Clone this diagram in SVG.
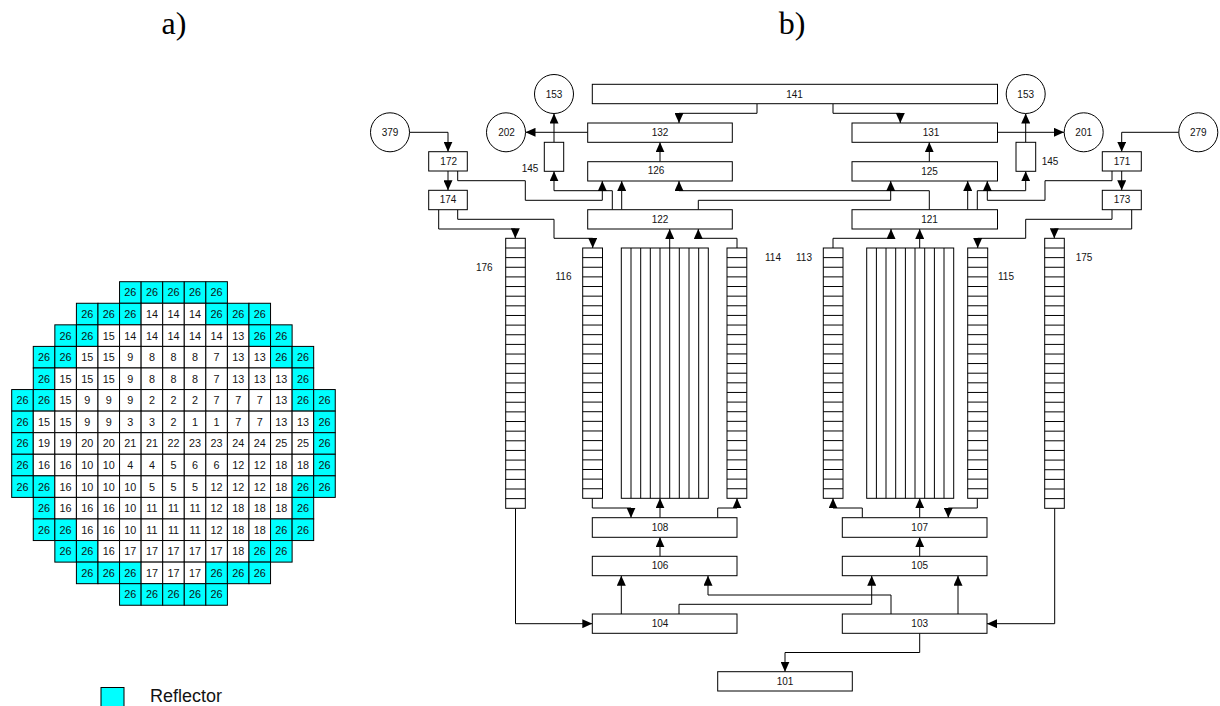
<svg xmlns="http://www.w3.org/2000/svg" width="1220" height="706" viewBox="0 0 1220 706">
<style>
text{font-family:"Liberation Sans",Arial,sans-serif;font-size:10px;fill:#111;text-anchor:middle;opacity:.99}
.h{font-family:"Liberation Serif","Times New Roman",serif;font-size:32px;fill:#000}
.lg{font-size:18px;text-anchor:start}
.g text{font-size:10.8px}
.g rect{width:21.57px;height:21.57px;stroke:#000;stroke-width:1}
.c{fill:#0ff}.w{fill:#fff}
.n rect,.n circle,.n path{fill:#fff;stroke:#000;stroke-width:1}
.n path{fill:none}
.k path{fill:none;stroke:#000;stroke-width:1;marker-end:url(#a)}
</style>
<defs>
<marker id="a" markerUnits="userSpaceOnUse" viewBox="0 0 10 9" refX="10" refY="4.5" markerWidth="10" markerHeight="9" orient="auto"><path d="M0 0L10 4.5L0 9Z" fill="#000"/></marker>
</defs>
<rect width="1220" height="706" fill="#fff"/>
<text class="h" x="174" y="34">a)</text>
<text class="h" x="792" y="34">b)</text>
<g id="core-map" class="g">
<g id="row0" transform="translate(0 281.7)"><rect class="c" x="119.55"/><text x="130.35" y="14.7">26</text><rect class="c" x="141.12"/><text x="151.9" y="14.7">26</text><rect class="c" x="162.69"/><text x="173.5" y="14.7">26</text><rect class="c" x="184.26"/><text x="195.05" y="14.7">26</text><rect class="c" x="205.83"/><text x="216.6" y="14.7">26</text></g>
<g id="row1" transform="translate(0 303.27)"><rect class="c" x="76.41"/><text x="87.2" y="14.7">26</text><rect class="c" x="97.98"/><text x="108.8" y="14.7">26</text><rect class="c" x="119.55"/><text x="130.35" y="14.7">26</text><rect class="w" x="141.12"/><text x="151.9" y="14.7">14</text><rect class="w" x="162.69"/><text x="173.5" y="14.7">14</text><rect class="w" x="184.26"/><text x="195.05" y="14.7">14</text><rect class="c" x="205.83"/><text x="216.6" y="14.7">26</text><rect class="c" x="227.4"/><text x="238.2" y="14.7">26</text><rect class="c" x="248.97"/><text x="259.75" y="14.7">26</text></g>
<g id="row2" transform="translate(0 324.84)"><rect class="c" x="54.84"/><text x="65.6" y="14.7">26</text><rect class="c" x="76.41"/><text x="87.2" y="14.7">26</text><rect class="w" x="97.98"/><text x="108.8" y="14.7">15</text><rect class="w" x="119.55"/><text x="130.35" y="14.7">14</text><rect class="w" x="141.12"/><text x="151.9" y="14.7">14</text><rect class="w" x="162.69"/><text x="173.5" y="14.7">14</text><rect class="w" x="184.26"/><text x="195.05" y="14.7">14</text><rect class="w" x="205.83"/><text x="216.6" y="14.7">14</text><rect class="w" x="227.4"/><text x="238.2" y="14.7">13</text><rect class="c" x="248.97"/><text x="259.75" y="14.7">26</text><rect class="c" x="270.54"/><text x="281.3" y="14.7">26</text></g>
<g id="row3" transform="translate(0 346.41)"><rect class="c" x="33.27"/><text x="44.05" y="14.7">26</text><rect class="c" x="54.84"/><text x="65.6" y="14.7">26</text><rect class="w" x="76.41"/><text x="87.2" y="14.7">15</text><rect class="w" x="97.98"/><text x="108.8" y="14.7">15</text><rect class="w" x="119.55"/><text x="130.35" y="14.7">9</text><rect class="w" x="141.12"/><text x="151.9" y="14.7">8</text><rect class="w" x="162.69"/><text x="173.5" y="14.7">8</text><rect class="w" x="184.26"/><text x="195.05" y="14.7">8</text><rect class="w" x="205.83"/><text x="216.6" y="14.7">7</text><rect class="w" x="227.4"/><text x="238.2" y="14.7">13</text><rect class="w" x="248.97"/><text x="259.75" y="14.7">13</text><rect class="c" x="270.54"/><text x="281.3" y="14.7">26</text><rect class="c" x="292.11"/><text x="302.9" y="14.7">26</text></g>
<g id="row4" transform="translate(0 367.98)"><rect class="c" x="33.27"/><text x="44.05" y="14.7">26</text><rect class="w" x="54.84"/><text x="65.6" y="14.7">15</text><rect class="w" x="76.41"/><text x="87.2" y="14.7">15</text><rect class="w" x="97.98"/><text x="108.8" y="14.7">15</text><rect class="w" x="119.55"/><text x="130.35" y="14.7">9</text><rect class="w" x="141.12"/><text x="151.9" y="14.7">8</text><rect class="w" x="162.69"/><text x="173.5" y="14.7">8</text><rect class="w" x="184.26"/><text x="195.05" y="14.7">8</text><rect class="w" x="205.83"/><text x="216.6" y="14.7">7</text><rect class="w" x="227.4"/><text x="238.2" y="14.7">13</text><rect class="w" x="248.97"/><text x="259.75" y="14.7">13</text><rect class="w" x="270.54"/><text x="281.3" y="14.7">13</text><rect class="c" x="292.11"/><text x="302.9" y="14.7">26</text></g>
<g id="row5" transform="translate(0 389.55)"><rect class="c" x="11.7"/><text x="22.5" y="14.7">26</text><rect class="c" x="33.27"/><text x="44.05" y="14.7">26</text><rect class="w" x="54.84"/><text x="65.6" y="14.7">15</text><rect class="w" x="76.41"/><text x="87.2" y="14.7">9</text><rect class="w" x="97.98"/><text x="108.8" y="14.7">9</text><rect class="w" x="119.55"/><text x="130.35" y="14.7">9</text><rect class="w" x="141.12"/><text x="151.9" y="14.7">2</text><rect class="w" x="162.69"/><text x="173.5" y="14.7">2</text><rect class="w" x="184.26"/><text x="195.05" y="14.7">2</text><rect class="w" x="205.83"/><text x="216.6" y="14.7">7</text><rect class="w" x="227.4"/><text x="238.2" y="14.7">7</text><rect class="w" x="248.97"/><text x="259.75" y="14.7">7</text><rect class="w" x="270.54"/><text x="281.3" y="14.7">13</text><rect class="c" x="292.11"/><text x="302.9" y="14.7">26</text><rect class="c" x="313.68"/><text x="324.5" y="14.7">26</text></g>
<g id="row6" transform="translate(0 411.12)"><rect class="c" x="11.7"/><text x="22.5" y="14.7">26</text><rect class="w" x="33.27"/><text x="44.05" y="14.7">15</text><rect class="w" x="54.84"/><text x="65.6" y="14.7">15</text><rect class="w" x="76.41"/><text x="87.2" y="14.7">9</text><rect class="w" x="97.98"/><text x="108.8" y="14.7">9</text><rect class="w" x="119.55"/><text x="130.35" y="14.7">3</text><rect class="w" x="141.12"/><text x="151.9" y="14.7">3</text><rect class="w" x="162.69"/><text x="173.5" y="14.7">2</text><rect class="w" x="184.26"/><text x="195.05" y="14.7">1</text><rect class="w" x="205.83"/><text x="216.6" y="14.7">1</text><rect class="w" x="227.4"/><text x="238.2" y="14.7">7</text><rect class="w" x="248.97"/><text x="259.75" y="14.7">7</text><rect class="w" x="270.54"/><text x="281.3" y="14.7">13</text><rect class="w" x="292.11"/><text x="302.9" y="14.7">13</text><rect class="c" x="313.68"/><text x="324.5" y="14.7">26</text></g>
<g id="row7" transform="translate(0 432.69)"><rect class="c" x="11.7"/><text x="22.5" y="14.7">26</text><rect class="w" x="33.27"/><text x="44.05" y="14.7">19</text><rect class="w" x="54.84"/><text x="65.6" y="14.7">19</text><rect class="w" x="76.41"/><text x="87.2" y="14.7">20</text><rect class="w" x="97.98"/><text x="108.8" y="14.7">20</text><rect class="w" x="119.55"/><text x="130.35" y="14.7">21</text><rect class="w" x="141.12"/><text x="151.9" y="14.7">21</text><rect class="w" x="162.69"/><text x="173.5" y="14.7">22</text><rect class="w" x="184.26"/><text x="195.05" y="14.7">23</text><rect class="w" x="205.83"/><text x="216.6" y="14.7">23</text><rect class="w" x="227.4"/><text x="238.2" y="14.7">24</text><rect class="w" x="248.97"/><text x="259.75" y="14.7">24</text><rect class="w" x="270.54"/><text x="281.3" y="14.7">25</text><rect class="w" x="292.11"/><text x="302.9" y="14.7">25</text><rect class="c" x="313.68"/><text x="324.5" y="14.7">26</text></g>
<g id="row8" transform="translate(0 454.26)"><rect class="c" x="11.7"/><text x="22.5" y="14.7">26</text><rect class="w" x="33.27"/><text x="44.05" y="14.7">16</text><rect class="w" x="54.84"/><text x="65.6" y="14.7">16</text><rect class="w" x="76.41"/><text x="87.2" y="14.7">10</text><rect class="w" x="97.98"/><text x="108.8" y="14.7">10</text><rect class="w" x="119.55"/><text x="130.35" y="14.7">4</text><rect class="w" x="141.12"/><text x="151.9" y="14.7">4</text><rect class="w" x="162.69"/><text x="173.5" y="14.7">5</text><rect class="w" x="184.26"/><text x="195.05" y="14.7">6</text><rect class="w" x="205.83"/><text x="216.6" y="14.7">6</text><rect class="w" x="227.4"/><text x="238.2" y="14.7">12</text><rect class="w" x="248.97"/><text x="259.75" y="14.7">12</text><rect class="w" x="270.54"/><text x="281.3" y="14.7">18</text><rect class="w" x="292.11"/><text x="302.9" y="14.7">18</text><rect class="c" x="313.68"/><text x="324.5" y="14.7">26</text></g>
<g id="row9" transform="translate(0 475.83)"><rect class="c" x="11.7"/><text x="22.5" y="14.7">26</text><rect class="c" x="33.27"/><text x="44.05" y="14.7">26</text><rect class="w" x="54.84"/><text x="65.6" y="14.7">16</text><rect class="w" x="76.41"/><text x="87.2" y="14.7">10</text><rect class="w" x="97.98"/><text x="108.8" y="14.7">10</text><rect class="w" x="119.55"/><text x="130.35" y="14.7">10</text><rect class="w" x="141.12"/><text x="151.9" y="14.7">5</text><rect class="w" x="162.69"/><text x="173.5" y="14.7">5</text><rect class="w" x="184.26"/><text x="195.05" y="14.7">5</text><rect class="w" x="205.83"/><text x="216.6" y="14.7">12</text><rect class="w" x="227.4"/><text x="238.2" y="14.7">12</text><rect class="w" x="248.97"/><text x="259.75" y="14.7">12</text><rect class="w" x="270.54"/><text x="281.3" y="14.7">18</text><rect class="c" x="292.11"/><text x="302.9" y="14.7">26</text><rect class="c" x="313.68"/><text x="324.5" y="14.7">26</text></g>
<g id="row10" transform="translate(0 497.4)"><rect class="c" x="33.27"/><text x="44.05" y="14.7">26</text><rect class="w" x="54.84"/><text x="65.6" y="14.7">16</text><rect class="w" x="76.41"/><text x="87.2" y="14.7">16</text><rect class="w" x="97.98"/><text x="108.8" y="14.7">16</text><rect class="w" x="119.55"/><text x="130.35" y="14.7">10</text><rect class="w" x="141.12"/><text x="151.9" y="14.7">11</text><rect class="w" x="162.69"/><text x="173.5" y="14.7">11</text><rect class="w" x="184.26"/><text x="195.05" y="14.7">11</text><rect class="w" x="205.83"/><text x="216.6" y="14.7">12</text><rect class="w" x="227.4"/><text x="238.2" y="14.7">18</text><rect class="w" x="248.97"/><text x="259.75" y="14.7">18</text><rect class="w" x="270.54"/><text x="281.3" y="14.7">18</text><rect class="c" x="292.11"/><text x="302.9" y="14.7">26</text></g>
<g id="row11" transform="translate(0 518.97)"><rect class="c" x="33.27"/><text x="44.05" y="14.7">26</text><rect class="c" x="54.84"/><text x="65.6" y="14.7">26</text><rect class="w" x="76.41"/><text x="87.2" y="14.7">16</text><rect class="w" x="97.98"/><text x="108.8" y="14.7">16</text><rect class="w" x="119.55"/><text x="130.35" y="14.7">10</text><rect class="w" x="141.12"/><text x="151.9" y="14.7">11</text><rect class="w" x="162.69"/><text x="173.5" y="14.7">11</text><rect class="w" x="184.26"/><text x="195.05" y="14.7">11</text><rect class="w" x="205.83"/><text x="216.6" y="14.7">12</text><rect class="w" x="227.4"/><text x="238.2" y="14.7">18</text><rect class="w" x="248.97"/><text x="259.75" y="14.7">18</text><rect class="c" x="270.54"/><text x="281.3" y="14.7">26</text><rect class="c" x="292.11"/><text x="302.9" y="14.7">26</text></g>
<g id="row12" transform="translate(0 540.54)"><rect class="c" x="54.84"/><text x="65.6" y="14.7">26</text><rect class="c" x="76.41"/><text x="87.2" y="14.7">26</text><rect class="w" x="97.98"/><text x="108.8" y="14.7">16</text><rect class="w" x="119.55"/><text x="130.35" y="14.7">17</text><rect class="w" x="141.12"/><text x="151.9" y="14.7">17</text><rect class="w" x="162.69"/><text x="173.5" y="14.7">17</text><rect class="w" x="184.26"/><text x="195.05" y="14.7">17</text><rect class="w" x="205.83"/><text x="216.6" y="14.7">17</text><rect class="w" x="227.4"/><text x="238.2" y="14.7">18</text><rect class="c" x="248.97"/><text x="259.75" y="14.7">26</text><rect class="c" x="270.54"/><text x="281.3" y="14.7">26</text></g>
<g id="row13" transform="translate(0 562.11)"><rect class="c" x="76.41"/><text x="87.2" y="14.7">26</text><rect class="c" x="97.98"/><text x="108.8" y="14.7">26</text><rect class="c" x="119.55"/><text x="130.35" y="14.7">26</text><rect class="w" x="141.12"/><text x="151.9" y="14.7">17</text><rect class="w" x="162.69"/><text x="173.5" y="14.7">17</text><rect class="w" x="184.26"/><text x="195.05" y="14.7">17</text><rect class="c" x="205.83"/><text x="216.6" y="14.7">26</text><rect class="c" x="227.4"/><text x="238.2" y="14.7">26</text><rect class="c" x="248.97"/><text x="259.75" y="14.7">26</text></g>
<g id="row14" transform="translate(0 583.68)"><rect class="c" x="119.55"/><text x="130.35" y="14.7">26</text><rect class="c" x="141.12"/><text x="151.9" y="14.7">26</text><rect class="c" x="162.69"/><text x="173.5" y="14.7">26</text><rect class="c" x="184.26"/><text x="195.05" y="14.7">26</text><rect class="c" x="205.83"/><text x="216.6" y="14.7">26</text></g>
</g>
<g id="legend"><rect x="101" y="687.5" width="23" height="24" fill="#0ff" stroke="#000"/><text class="lg" x="150" y="702">Reflector</text></g>

<g id="connectors" class="k">
<path d="M757 104V113.3H679V123"/>
<path d="M833 104V113.3H900.3V123"/>
<path d="M587.7 132.3H525.5"/>
<path d="M554 142.3V113.5"/>
<path d="M1025.7 142.3V113.5"/>
<path d="M997.5 132.3H1064"/>
<path d="M660 161.7V142.3"/>
<path d="M929.3 161.7V142.3"/>
<path d="M612.3 209.7V190.7H554V171.3"/>
<path d="M621.7 209.7V181"/>
<path d="M457.7 171V180.7H525.3V200.3H602.3V181"/>
<path d="M929.3 209.7V190.7H679V181"/>
<path d="M698.3 209.7V200.3H890.7V181"/>
<path d="M967.7 209.7V181"/>
<path d="M977.3 209.7V190.7H1025.7V171.3"/>
<path d="M1112 171V180.7H1045V200.3H987.3V181"/>
<path d="M1112 209.7V219.3H1025.7V238.3H977.7V248"/>
<path d="M1131.7 209.7V229H1054.3V238.3"/>
<path d="M438.7 209.7V229H515.3V238.3"/>
<path d="M457.7 209.7V219.3H554V238.3H592.7V248"/>
<path d="M409.5 132.3H448V151.7"/>
<path d="M448 171V190.3"/>
<path d="M1179 132.3H1121.7V151.7"/>
<path d="M1121.7 171V190.3"/>
<path d="M669.7 248V229"/>
<path d="M737 248V238.3H698.3V229"/>
<path d="M833 248V238.3H891V229"/>
<path d="M919.7 248V229"/>
<path d="M592.3 498.3V508H631V517.7"/>
<path d="M660 517.7V498.3"/>
<path d="M717.7 517.7V508H737V498.3"/>
<path d="M862.3 517.7V508H833V498.3"/>
<path d="M919.7 517.7V498.3"/>
<path d="M977.3 498.3V508H948.3V517.7"/>
<path d="M660 556.3V537.3"/>
<path d="M919.7 556.3V537.3"/>
<path d="M621.3 614V575.7"/>
<path d="M891 614V595H708V575.7"/>
<path d="M679 614V604.3H871.7V575.7"/>
<path d="M958 614V575.7"/>
<path d="M515.5 508.3V623.7H592.3"/>
<path d="M1054.7 508.3V623.7H987"/>
<path d="M919.7 633.3V652.5H785V671.7"/>
</g>

<g id="n153a" class="n"><circle cx="554" cy="94" r="19.5"/><text x="554" y="97.5">153</text></g>
<g id="n202" class="n"><circle cx="506" cy="132.3" r="19.5"/><text x="506.5" y="135.8">202</text></g>
<g id="n379" class="n"><circle cx="390" cy="132.3" r="19.5"/><text x="390" y="135.8">379</text></g>
<g id="n153b" class="n"><circle cx="1025.7" cy="94" r="19.5"/><text x="1025.7" y="97.5">153</text></g>
<g id="n201" class="n"><circle cx="1083.7" cy="132.3" r="19.5"/><text x="1083.7" y="135.8">201</text></g>
<g id="n279" class="n"><circle cx="1198.3" cy="132.3" r="19.5"/><text x="1198.3" y="135.8">279</text></g>
<g id="n141" class="n"><rect x="592.3" y="84.3" width="405.2" height="19.4"/><text x="794.5" y="97.5">141</text></g>
<g id="n132" class="n"><rect x="587.7" y="123" width="144.6" height="19.3"/><text x="660" y="136">132</text></g>
<g id="n126" class="n"><rect x="587.7" y="161.7" width="144.6" height="19.3"/><text x="656" y="173.7">126</text></g>
<g id="n122" class="n"><rect x="587.7" y="209.7" width="144.6" height="19.3"/><text x="660" y="222.7">122</text></g>
<g id="n131" class="n"><rect x="852" y="123" width="145.5" height="19.3"/><text x="931" y="136">131</text></g>
<g id="n125" class="n"><rect x="852" y="161.7" width="145.5" height="19.3"/><text x="929.5" y="174.7">125</text></g>
<g id="n121" class="n"><rect x="852" y="209.7" width="145.5" height="19.3"/><text x="929.5" y="222.7">121</text></g>
<g id="n145a" class="n"><rect x="544.3" y="142.3" width="19.4" height="29"/><text x="530" y="172">145</text></g>
<g id="n145b" class="n"><rect x="1016" y="142.3" width="19.7" height="29"/><text x="1050" y="165.2">145</text></g>
<g id="n172" class="n"><rect x="428.7" y="151.7" width="38.6" height="19.3"/><text x="448.7" y="164.5">172</text></g>
<g id="n174" class="n"><rect x="428.7" y="190.3" width="38.6" height="19.4"/><text x="448" y="202.5">174</text></g>
<g id="n171" class="n"><rect x="1102.3" y="151.7" width="39" height="19.3"/><text x="1122" y="164.5">171</text></g>
<g id="n173" class="n"><rect x="1102.3" y="190.3" width="39" height="19.4"/><text x="1122" y="202.5">173</text></g>

<g id="n176" class="n"><rect x="505.7" y="238.3" width="19.6" height="270"/><path d="M505.7 248h19.6m-19.6 9.64h19.6m-19.6 9.64h19.6m-19.6 9.64h19.6m-19.6 9.64h19.6m-19.6 9.64h19.6m-19.6 9.64h19.6m-19.6 9.64h19.6m-19.6 9.64h19.6m-19.6 9.64h19.6m-19.6 9.64h19.6m-19.6 9.64h19.6m-19.6 9.64h19.6m-19.6 9.64h19.6m-19.6 9.64h19.6m-19.6 9.64h19.6m-19.6 9.64h19.6m-19.6 9.64h19.6m-19.6 9.64h19.6m-19.6 9.64h19.6m-19.6 9.64h19.6m-19.6 9.64h19.6m-19.6 9.64h19.6m-19.6 9.64h19.6m-19.6 9.64h19.6m-19.6 9.64h19.6m-19.6 9.64h19.6"/><text x="484.3" y="270.7">176</text></g>
<g id="n116" class="n"><rect x="582.7" y="248" width="19.8" height="250.3"/><path d="M582.7 257.63h19.8m-19.8 9.63h19.8m-19.8 9.63h19.8m-19.8 9.63h19.8m-19.8 9.63h19.8m-19.8 9.63h19.8m-19.8 9.63h19.8m-19.8 9.63h19.8m-19.8 9.63h19.8m-19.8 9.63h19.8m-19.8 9.63h19.8m-19.8 9.63h19.8m-19.8 9.63h19.8m-19.8 9.63h19.8m-19.8 9.63h19.8m-19.8 9.63h19.8m-19.8 9.63h19.8m-19.8 9.63h19.8m-19.8 9.63h19.8m-19.8 9.63h19.8m-19.8 9.63h19.8m-19.8 9.63h19.8m-19.8 9.63h19.8m-19.8 9.63h19.8m-19.8 9.63h19.8"/><text x="563.5" y="280.2">116</text></g>
<g id="n114" class="n"><rect x="727" y="248" width="19.8" height="250.3"/><path d="M727 257.63h19.8m-19.8 9.63h19.8m-19.8 9.63h19.8m-19.8 9.63h19.8m-19.8 9.63h19.8m-19.8 9.63h19.8m-19.8 9.63h19.8m-19.8 9.63h19.8m-19.8 9.63h19.8m-19.8 9.63h19.8m-19.8 9.63h19.8m-19.8 9.63h19.8m-19.8 9.63h19.8m-19.8 9.63h19.8m-19.8 9.63h19.8m-19.8 9.63h19.8m-19.8 9.63h19.8m-19.8 9.63h19.8m-19.8 9.63h19.8m-19.8 9.63h19.8m-19.8 9.63h19.8m-19.8 9.63h19.8m-19.8 9.63h19.8m-19.8 9.63h19.8m-19.8 9.63h19.8"/><text x="773" y="260.8">114</text></g>
<g id="n113" class="n"><rect x="823.3" y="248" width="19.7" height="250.3"/><path d="M823.3 257.63h19.7m-19.7 9.63h19.7m-19.7 9.63h19.7m-19.7 9.63h19.7m-19.7 9.63h19.7m-19.7 9.63h19.7m-19.7 9.63h19.7m-19.7 9.63h19.7m-19.7 9.63h19.7m-19.7 9.63h19.7m-19.7 9.63h19.7m-19.7 9.63h19.7m-19.7 9.63h19.7m-19.7 9.63h19.7m-19.7 9.63h19.7m-19.7 9.63h19.7m-19.7 9.63h19.7m-19.7 9.63h19.7m-19.7 9.63h19.7m-19.7 9.63h19.7m-19.7 9.63h19.7m-19.7 9.63h19.7m-19.7 9.63h19.7m-19.7 9.63h19.7m-19.7 9.63h19.7"/><text x="804" y="260.8">113</text></g>
<g id="n115" class="n"><rect x="967.7" y="248" width="20" height="250.3"/><path d="M967.7 257.63h20m-20 9.63h20m-20 9.63h20m-20 9.63h20m-20 9.63h20m-20 9.63h20m-20 9.63h20m-20 9.63h20m-20 9.63h20m-20 9.63h20m-20 9.63h20m-20 9.63h20m-20 9.63h20m-20 9.63h20m-20 9.63h20m-20 9.63h20m-20 9.63h20m-20 9.63h20m-20 9.63h20m-20 9.63h20m-20 9.63h20m-20 9.63h20m-20 9.63h20m-20 9.63h20m-20 9.63h20"/><text x="1006" y="280.2">115</text></g>
<g id="n175" class="n"><rect x="1044.7" y="238.3" width="19.6" height="270"/><path d="M1044.7 248h19.6m-19.6 9.64h19.6m-19.6 9.64h19.6m-19.6 9.64h19.6m-19.6 9.64h19.6m-19.6 9.64h19.6m-19.6 9.64h19.6m-19.6 9.64h19.6m-19.6 9.64h19.6m-19.6 9.64h19.6m-19.6 9.64h19.6m-19.6 9.64h19.6m-19.6 9.64h19.6m-19.6 9.64h19.6m-19.6 9.64h19.6m-19.6 9.64h19.6m-19.6 9.64h19.6m-19.6 9.64h19.6m-19.6 9.64h19.6m-19.6 9.64h19.6m-19.6 9.64h19.6m-19.6 9.64h19.6m-19.6 9.64h19.6m-19.6 9.64h19.6m-19.6 9.64h19.6m-19.6 9.64h19.6m-19.6 9.64h19.6"/><text x="1084" y="260.8">175</text></g>
<g id="core-left" class="n"><rect x="621.3" y="248" width="87" height="250.3"/><path d="M631 248v250.3M640.7 248v250.3M650.3 248v250.3M660 248v250.3M669.7 248v250.3M679.3 248v250.3M689 248v250.3M698.7 248v250.3"/></g>
<g id="core-right" class="n"><rect x="866.7" y="248" width="87" height="250.3"/><path d="M876.4 248v250.3M886 248v250.3M895.7 248v250.3M905.4 248v250.3M915 248v250.3M924.7 248v250.3M934.4 248v250.3M944 248v250.3"/></g>

<g id="n108" class="n"><rect x="592.3" y="517.7" width="144.7" height="19.6"/><text x="660" y="531">108</text></g>
<g id="n106" class="n"><rect x="592.3" y="556.3" width="144.7" height="19.4"/><text x="660" y="569">106</text></g>
<g id="n104" class="n"><rect x="592.3" y="614" width="144.7" height="19.3"/><text x="660" y="627">104</text></g>
<g id="n107" class="n"><rect x="842.3" y="517.7" width="144.7" height="19.6"/><text x="919.7" y="531">107</text></g>
<g id="n105" class="n"><rect x="842.3" y="556.3" width="144.7" height="19.4"/><text x="919.7" y="569">105</text></g>
<g id="n103" class="n"><rect x="842.3" y="614" width="144.7" height="19.3"/><text x="919.7" y="627">103</text></g>
<g id="n101" class="n"><rect x="717.7" y="671.7" width="134.6" height="19.3"/><text x="785" y="685">101</text></g>
</svg>
